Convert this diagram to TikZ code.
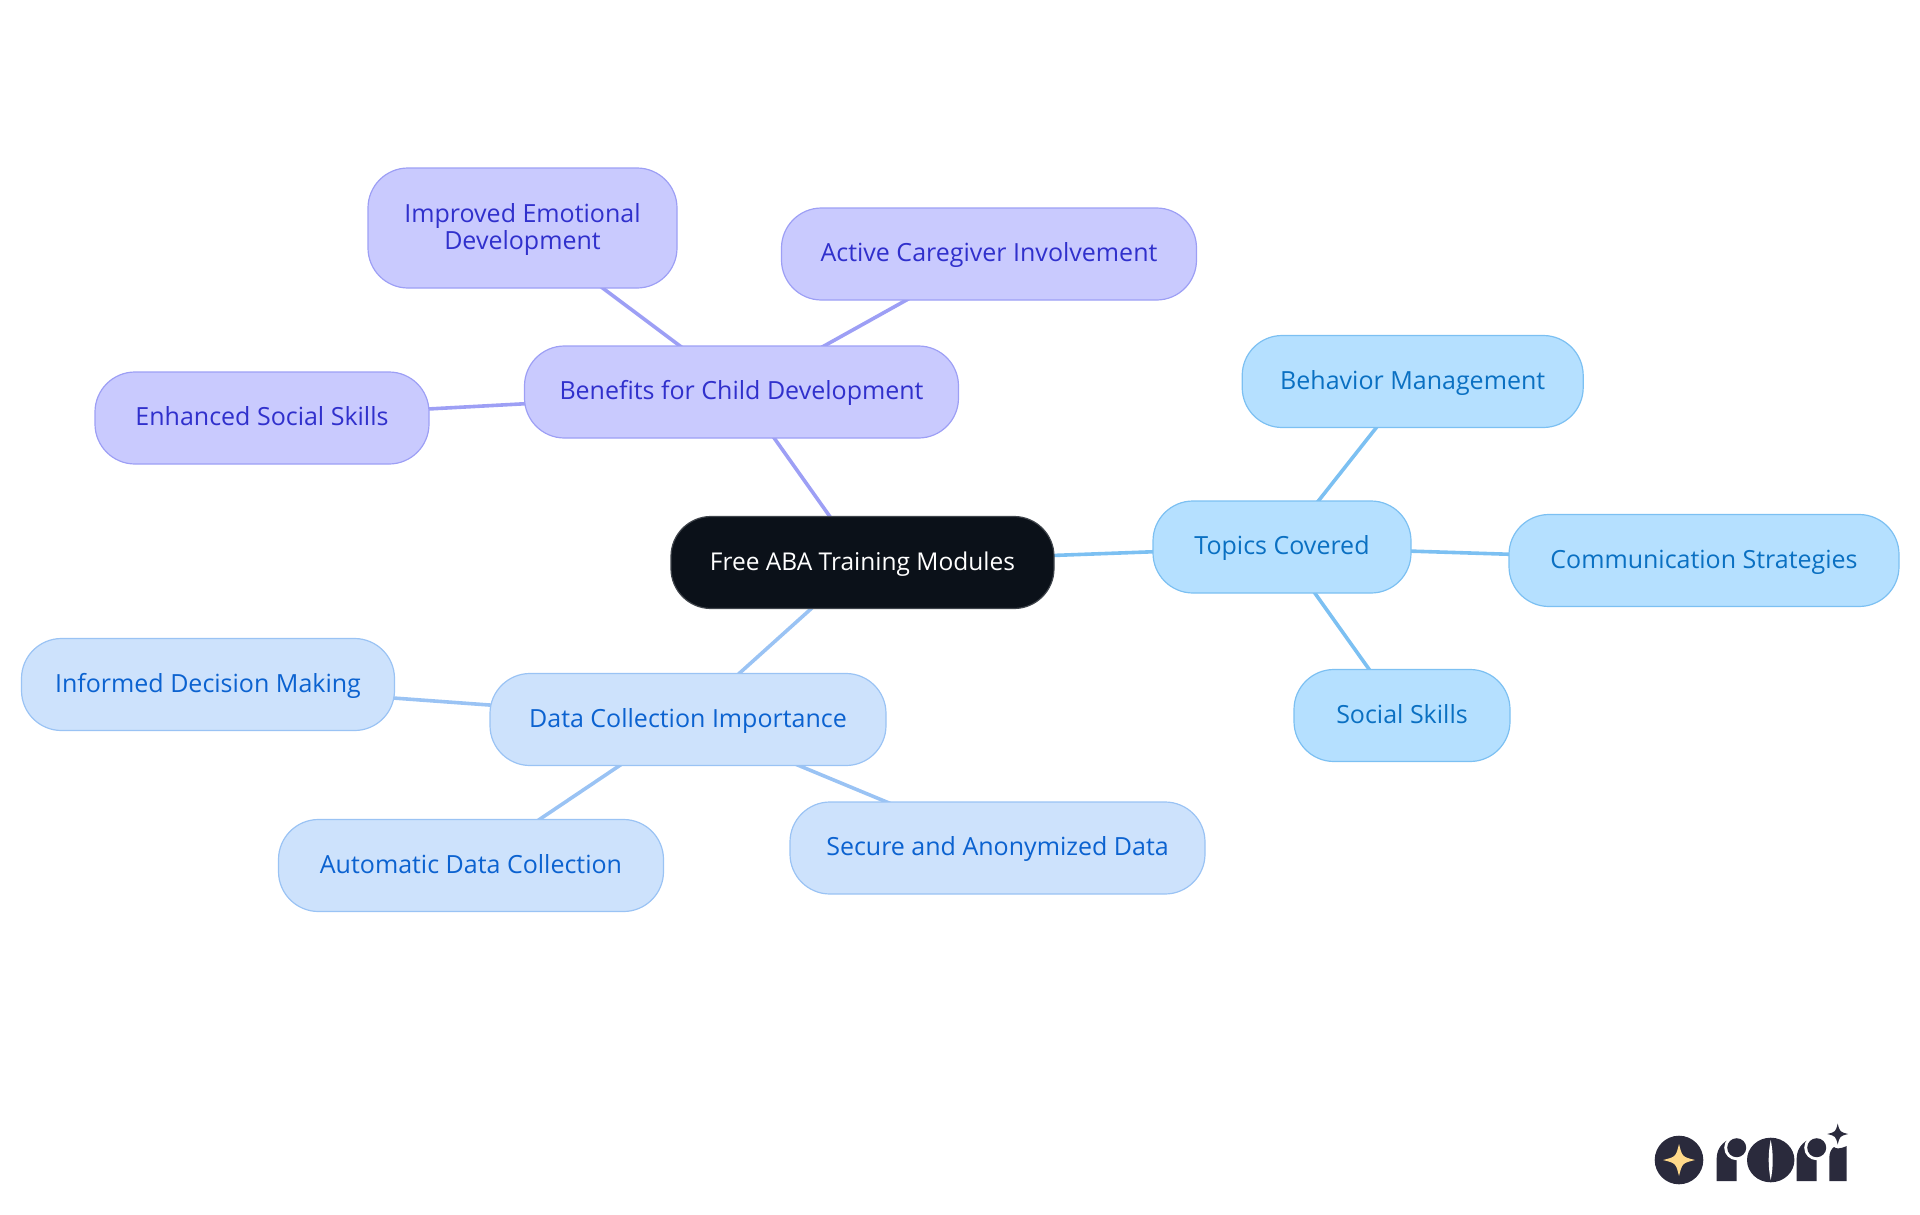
\documentclass[tikz,border=0pt]{standalone}
\usepackage{fontspec}
\setmainfont{Open Sans}
\usetikzlibrary{backgrounds}
\definecolor{rootfill}{HTML}{0B1119}
\definecolor{rootline}{HTML}{3F444B}
\definecolor{purplefill}{HTML}{C9CAFE}
\definecolor{purpleline}{HTML}{9D9FF5}
\definecolor{purpletext}{HTML}{3030CC}
\definecolor{bluefill}{HTML}{CDE2FC}
\definecolor{blueline}{HTML}{9AC3F4}
\definecolor{bluetext}{HTML}{0B62D0}
\definecolor{skyfill}{HTML}{B5E0FF}
\definecolor{skyline}{HTML}{7CC0F2}
\definecolor{skytext}{HTML}{0A70C2}
\definecolor{logodark}{HTML}{2A2A3C}
\definecolor{logostar}{HTML}{FFD98A}
\newcommand{\fourstar}[4]{%
	\fill[#4] (#1+#3,#2) .. controls (#1+#3*0.2,#2+#3*0.2) .. (#1,#2+#3)
	.. controls (#1-#3*0.2,#2+#3*0.2) .. (#1-#3,#2)
	.. controls (#1-#3*0.2,#2-#3*0.2) .. (#1,#2-#3)
	.. controls (#1+#3*0.2,#2-#3*0.2) .. cycle;}
\newcommand{\logor}[1]{%
	\fill[logodark] (#1,1181) -- (#1,1158) arc[start angle=180, end angle=270, radius=20]
	-- (#1+20,1181) -- cycle;
	\fill[white] (#1+20,1147.7) circle (12.5);
	\fill[logodark] (#1+20,1147.7) circle (9.5);}
\begin{document}
\begin{tikzpicture}[x=1pt, y=-1pt,
	mstyle/.style={rectangle, rounded corners=40pt, line width=1.2pt, minimum height=92pt,
	inner sep=0pt, align=center, text height=20pt, text depth=5pt,
	font=\fontsize{25}{27}\selectfont},
	rootstyle/.style={mstyle, fill=rootfill, draw=rootline, text=white, font=\fontsize{24.5}{27}\selectfont},
	purplestyle/.style={mstyle, fill=purplefill, draw=purpleline, text=purpletext},
	bluestyle/.style={mstyle, fill=bluefill, draw=blueline, text=bluetext},
	skystyle/.style={mstyle, fill=skyfill, draw=skyline, text=skytext},
	purplelink/.style={draw=purpleline, line width=3.6pt},
	bluelink/.style={draw=blueline, line width=3.6pt},
	skylink/.style={draw=skyline, line width=3.6pt}
	]
	\useasboundingbox (0,0) rectangle (1920,1215);
	\node[rootstyle, minimum width=383pt] (root) at (862.5,562.5) {Free ABA Training Modules};
	
	\node[purplestyle, minimum width=434pt] (benefits) at (741.5,392) {Benefits for Child Development};
	\node[purplestyle, minimum width=309pt, minimum height=120pt, text height=42pt, text depth=0pt] (emotional) at (522.5,228) {Improved Emotional\\Development};
	\node[purplestyle, minimum width=415pt] (caregiver) at (989,254) {Active Caregiver Involvement};
	\node[purplestyle, minimum width=334pt] (social) at (262,418) {Enhanced Social Skills};
	
	\node[bluestyle, minimum width=396pt] (data) at (688,719.5) {Data Collection Importance};
	\node[bluestyle, minimum width=373pt] (decision) at (208,684.5) {Informed Decision Making};
	\node[bluestyle, minimum width=385pt] (automatic) at (471,865.5) {Automatic Data Collection};
	\node[bluestyle, minimum width=415pt] (secure) at (997.5,848) {Secure and Anonymized Data};
	
	\node[skystyle, minimum width=258pt] (topics) at (1282,547) {Topics Covered};
	\node[skystyle, minimum width=341pt] (behavior) at (1412.7,381.5) {Behavior Management};
	\node[skystyle, minimum width=390pt] (communication) at (1704,560.5) {Communication Strategies};
	\node[skystyle, minimum width=216pt] (skills) at (1402,715.5) {Social Skills};
	
	\begin{scope}[on background layer]
	\draw[purplelink] (root.center) to (benefits.center);
	\draw[purplelink] (benefits.center) to (emotional.center);
	\draw[purplelink] (benefits.center) to (caregiver.center);
	\draw[purplelink] (benefits.center) to (social.center);
	\draw[bluelink] (root.center) to (data.center);
	\draw[bluelink] (data.center) to (decision.center);
	\draw[bluelink] (data.center) to (automatic.center);
	\draw[bluelink] (data.center) to (secure.center);
	\draw[skylink] (root.center) to (topics.center);
	\draw[skylink] (topics.center) to (behavior.center);
	\draw[skylink] (topics.center) to (communication.center);
	\draw[skylink] (topics.center) to (skills.center);
	\end{scope}
	
	% logo
	\fill[logodark] (1679,1160) circle (24.3);
	\fourstar{1679}{1160}{16}{logostar}
	\logor{1716.7}
	\fill[logodark] (1770.7,1160) ellipse (23.7 and 22.3);
	\fill[white] (1770.7,1140) .. controls (1768,1153) and (1768,1167) .. (1770.7,1180)
	.. controls (1773.4,1167) and (1773.4,1153) .. cycle;
	\logor{1796.7}
	\fill[logodark] (1829.3,1181) -- (1829.3,1158) .. controls (1829.3,1153) and (1831,1149) .. (1834,1147)
	.. controls (1836,1149) and (1840,1149) .. (1846.7,1146) -- (1846.7,1181) -- cycle;
	\fourstar{1837.7}{1134}{10.5}{logodark}
\end{tikzpicture}
\end{document}
